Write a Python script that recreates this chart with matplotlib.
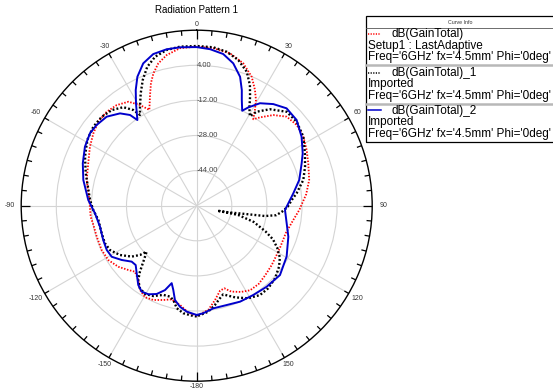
import numpy as np
import matplotlib.pyplot as plt
from matplotlib.lines import Line2D
from matplotlib.patches import Rectangle

plt.rcParams['font.family'] = ['Liberation Sans', 'DejaVu Sans']
plt.rcParams['axes.unicode_minus'] = False

# dB(GainTotal) - Setup1 : LastAdaptive (red, dotted)
red_theta = [-180, -175.5, -170.5, -165.0, -160.5, -155.3, -150.6, -146.1, -141.8, -136.9,
             -133.2, -127.9, -121.6, -115.0, -107.2, -100.6, -95.9, -87.0, -76.8, -68.6,
             -61.1, -55.0, -49.5, -43.8, -38.5, -33.3, -29.4, -26.3, -23.2, -20.5,
             -18.1, -15.1, -11.3, -6.1, 0, 6.0, 12.3, 18.1, 23.1, 26.7,
             29.3, 31.3, 33.2, 35.6, 40.2, 45.3, 51.1, 57.1, 63.1, 69.2,
             77.1, 84.0, 92.4, 98.4, 107.0, 116.2, 121.6, 128.3, 135.4, 141.6,
             147.7, 152.8, 158.1, 161.5, 164.7, 169.0, 173.7, 180]
red_db = [-9.8, -11.1, -14.1, -15.8, -14.4, -12.7, -12.1, -13.7, -16.9, -18.8,
          -17.2, -14.7, -12.7, -12.2, -12.3, -12.1, -11.4, -11.0, -8.5, -6.9,
          -4.4, -2.5, -1.0, -0.7, -1.4, -3.3, -7.3, -11.3, -5.9, -0.4,
          3.5, 7.2, 10.0, 12.2, 12.5, 12.2, 11.1, 8.3, 3.9, -0.9,
          -4.8, -8.9, -12.9, -10.5, -5.9, -2.3, -1.4, -2.1, -3.8, -5.6,
          -7.4, -9.8, -13.2, -15.5, -17.5, -17.5, -17.2, -16.4, -15.5, -14.5,
          -14.4, -15.8, -17.8, -20.3, -19.8, -16.2, -12.2, -9.8]

# dB(GainTotal)_1 - Imported (black, dotted)
black_theta = [-180, -178.2, -172.9, -169.0, -166.1, -163.6, -159.5, -154.3, -149.7, -145.5,
               -141.8, -139.3, -136.4, -132.6, -131.0, -128.1, -122.7, -117.1, -112.3, -106.2,
               -98.3, -92.4, -86.9, -73.7, -66.3, -59.0, -52.6, -46.9, -41.6, -36.7,
               -33.5, -32.0, -29.8, -26.5, -23.2, -19.6, -15.6, -10.9, -6.0, 0,
               6.0, 11.0, 15.9, 20.5, 23.8, 26.1, 28.4, 30.7, 32.5, 37.2,
               43.8, 50.0, 57.1, 64.2, 70.2, 76.4, 82.9, 86.4, 90.6, 94.0,
               96.8, 98.6, 99.7, 101.8, 103.6, 102.6, 105.9, 110.5, 113.8, 117.7,
               122.0, 126.5, 132.8, 139.1, 144.7, 150.9, 157.3, 163.4, 165.9, 169.6,
               173.8, 180]
black_db = [-9.5, -9.7, -10.6, -12.4, -15.7, -16.8, -16.6, -14.3, -13.4, -14.3,
            -16.9, -20.3, -24.7, -29.0, -25.8, -22.4, -18.4, -15.6, -14.8, -14.9,
            -14.7, -12.8, -11.3, -7.3, -4.4, -1.8, -0.7, -0.7, -1.7, -4.0,
            -7.7, -11.2, -8.0, -2.8, 2.4, 7.2, 10.5, 12.3, 12.9, 12.8,
            12.6, 11.5, 9.1, 5.2, 0.1, -4.7, -9.5, -12.5, -9.2, -4.8,
            -0.7, -0.5, -2.1, -5.2, -7.5, -10.0, -14.1, -16.5, -18.5, -21.0,
            -23.5, -28.5, -37.7, -45.3, -50.3, -40.6, -33.0, -26.5, -22.0, -18.5,
            -15.3, -13.3, -11.3, -10.2, -10.1, -11.7, -14.7, -17.8, -16.5, -14.0,
            -11.4, -9.5]

# dB(GainTotal)_2 - Imported (blue, solid)
blue_theta = [-180, -174.6, -170.6, -167.0, -164.5, -162.1, -159.4, -155.6, -151.4, -147.4,
              -143.6, -138.4, -134.2, -130.7, -125.9, -121.0, -116.2, -110.2, -102.3, -94.3,
              -87.0, -77.2, -69.6, -62.2, -55.8, -51.1, -45.3, -39.7, -36.3, -34.7,
              -30.7, -27.8, -24.7, -20.6, -16.0, -10.9, -6.0, 0, 4.9, 9.9,
              14.4, 18.6, 21.3, 23.1, 25.6, 27.7, 31.7, 37.0, 42.7, 49.4,
              56.7, 63.7, 68.0, 75.9, 82.7, 92.8, 101.1, 108.7, 119.5, 129.8,
              139.2, 147.6, 155.7, 163.2, 170.8, 176.5, 180]
blue_db = [-10.2, -11.5, -13.3, -15.9, -20.1, -22.9, -18.9, -15.8, -14.0, -13.5,
           -15.1, -18.8, -21.2, -20.9, -17.8, -14.8, -14.3, -14.6, -14.9, -13.5,
           -10.5, -7.0, -4.6, -2.4, -1.2, -1.4, -2.3, -5.3, -8.7, -12.5,
           -5.8, -0.4, 4.7, 9.3, 11.9, 12.6, 12.6, 12.3, 11.6, 10.2,
           7.0, 2.0, -3.4, -7.6, -12.0, -9.4, -5.1, -2.0, 0.4, 0.0,
           -2.8, -6.1, -8.4, -11.8, -15.6, -19.7, -18.2, -15.9, -12.9, -10.6,
           -11.2, -11.8, -12.0, -12.7, -12.6, -10.9, -10.2]

r_ticks = [-44, -28, -12, 4]
theta_ticks = list(range(0, 360, 30))
theta_labels = [str(t if t < 180 else t - 360) for t in theta_ticks]

curve_names = ['dB(GainTotal)', 'dB(GainTotal)_1', 'dB(GainTotal)_2']
curve_sources = ['Setup1 : LastAdaptive', 'Imported', 'Imported']
sweep_info = "Freq='6GHz' fx='4.5mm' Phi='0deg'"

W, H = 553, 391
R_MIN, R_MAX = -60, 20
RADIUS_PX = 175.5


def fx(x):
    return x / W


def fy(y):
    return 1 - y / H


fig = plt.figure(figsize=(W / 100, H / 100), dpi=100)
fig.patch.set_facecolor('white')

ax = fig.add_axes([fx(21.2), fy(381.2), 351 / W, 351 / H], projection='polar')
ax.set_theta_zero_location('N')
ax.set_theta_direction(-1)
ax.set_rlim(R_MIN, R_MAX)
per_px = (R_MAX - R_MIN) / RADIUS_PX

styles = [
    dict(color='#ff0000', lw=1.3, ls=(0, (0.8, 0.9))),
    dict(color='#000000', lw=1.7, ls=(0, (0.8, 0.9))),
    dict(color='#0000cc', lw=1.4, ls='-'),
]
series = [(red_theta, red_db), (black_theta, black_db), (blue_theta, blue_db)]
for (th, db), st in zip(series, styles):
    ax.plot(np.radians(th), db, **st, zorder=3)

# grid
ax.set_rticks(r_ticks)
ax.set_yticklabels([])
for v in r_ticks:
    ax.text(0, v, f'{v:.2f}', ha='left', va='center', fontsize=5.5, color='#444444', zorder=4)
ax.set_thetagrids(theta_ticks)
ax.set_xticklabels([])
for t, lab in zip(theta_ticks, theta_labels):
    off = 5.5 + 5.5 * abs(np.sin(np.radians(t)))
    ax.text(np.radians(t), R_MAX + off * per_px, lab, ha='center', va='center',
            fontsize=5, color='#333333', clip_on=False)
ax.grid(True, color='#d4d4d4', lw=0.8)
ax.tick_params(axis='x', which='both', length=0)
ax.spines['polar'].set_linewidth(1.0)

# inward ticks on the outer circle, every 5 degrees
for t in range(0, 360, 5):
    ln = 9 if t % 90 == 0 else 5
    ax.plot([np.radians(t)] * 2, [R_MAX, R_MAX - ln * per_px], color='black', lw=0.9,
            clip_on=False, zorder=5, solid_capstyle='butt')

fig.text(fx(196.7), fy(10), 'Radiation Pattern 1', ha='center', va='center', fontsize=7)

# curve info box
fig.add_artist(Rectangle((fx(366), fy(141.7)), fx(600) - fx(366), fy(16) - fy(141.7),
                         transform=fig.transFigure, fill=False, ec='black', lw=0.9))
fig.text(fx(460), fy(22), 'Curve Info', ha='center', va='center', fontsize=3.8, color='#333333')
fig.add_artist(Line2D([fx(366), 1], [fy(27.5)] * 2, transform=fig.transFigure, color='#555555', lw=0.6))
for ysep in [65, 103.5]:
    fig.add_artist(Line2D([fx(366), 1], [fy(ysep)] * 2, transform=fig.transFigure, color='#b8b8b8', lw=1.8))

row_y = [33.5, 72.5, 110.5]
for name, src, st, y0 in zip(curve_names, curve_sources, styles, row_y):
    fig.add_artist(Line2D([fx(368), fx(381)], [fy(y0)] * 2, transform=fig.transFigure,
                          color=st['color'], lw=min(st['lw'], 1.1), ls=st['ls']))
    fig.text(fx(391.5), fy(y0 + 0.5), name, ha='left', va='center', fontsize=8.5)
    fig.text(fx(368), fy(y0 + 12), src, ha='left', va='center', fontsize=8.5)
    fig.text(fx(368), fy(y0 + 23.5), sweep_info, ha='left', va='center', fontsize=8.5)

fig.savefig('out.png', dpi=100)
